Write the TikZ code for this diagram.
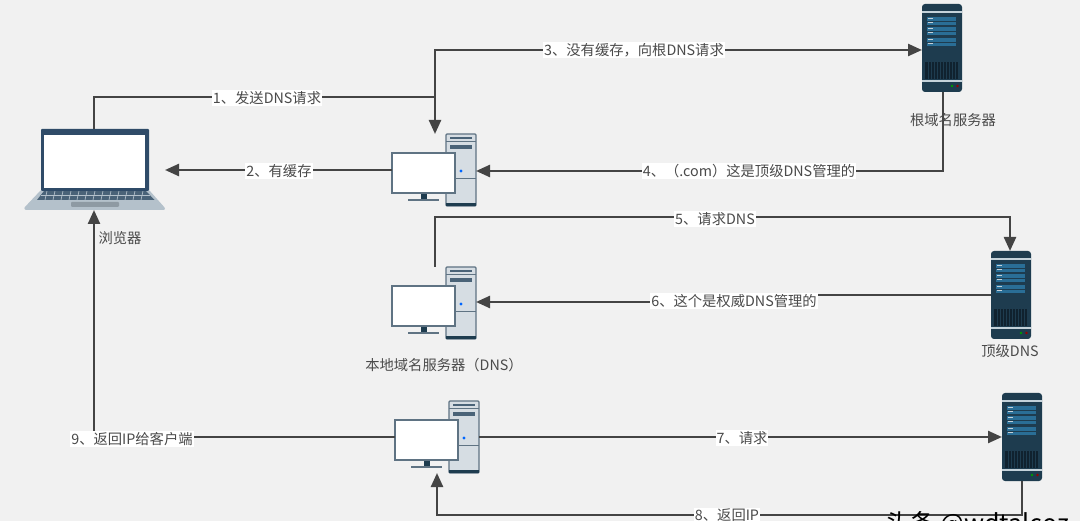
\documentclass[tikz,border=0pt]{standalone}
\usepackage{fontspec}
\setmainfont{Noto Sans CJK SC}
\usetikzlibrary{arrows.meta}
\definecolor{bgc}{HTML}{F1F1F1}
\definecolor{linec}{HTML}{444444}
\definecolor{txtc}{HTML}{4A4A4A}
\definecolor{navy}{HTML}{2F4B68}
\definecolor{lapb}{HTML}{B4C1CB}
\definecolor{lapk}{HTML}{4A6378}
\definecolor{lapp}{HTML}{8E9AA3}
\definecolor{towerc}{HTML}{D6DDE3}
\definecolor{towere}{HTML}{5F7383}
\definecolor{srv}{HTML}{1E3C4F}
\definecolor{srvd}{HTML}{10222F}
\definecolor{srvblue}{HTML}{2A6E96}
\definecolor{srvl}{HTML}{C4D2DA}
\tikzset{
  x=1pt,y=-1pt,
  conn/.style={draw=linec,line width=2.4pt},
  arr/.style={conn,-{Triangle[length=14pt,width=12pt]}},
  lab/.style={fill=white,text=txtc,font=\fontsize{14.3}{16}\selectfont,inner xsep=1pt,inner ysep=1pt},
  captiontext/.style={text=txtc,font=\fontsize{14.3}{16}\selectfont,inner sep=0pt},
  markstyle/.style={text=black,font=\fontsize{25}{27}\selectfont,inner sep=0pt,anchor=west},
}
\newcommand{\pcicon}[3]{% name, x, y of monitor's top left
  \begin{scope}[shift={(#2,#3)}]
    \node[inner sep=0pt,minimum width=84pt,minimum height=73pt,anchor=south west] (#1) at (0,53) {};
    \fill[towerc,draw=towere,line width=1.4pt,rounded corners=1pt] (54,-19) rectangle (84,53);
    \fill[srv] (54,50) rectangle (84,53);
    \draw[towere,line width=1pt] (54,-11) -- (84,-11) (54,26) -- (84,26);
    \fill[lapk] (58,-15.5) rectangle (80,-13.5);
    \fill[lapk] (58,-8) rectangle (80,-4);
    \fill[blue!60!cyan] (69,18) circle (1.6);
    \fill[srv] (29,40) rectangle (35,46);
    \fill[towere] (16,46) rectangle (47,48);
    \fill[white,draw=towere,line width=1.4pt] (0,0) rectangle (63,40);
  \end{scope}}
\newcommand{\srvicon}[3]{% name, x, y of top left
  \begin{scope}[shift={(#2,#3)}]
    \node[inner sep=0pt,minimum width=40pt,minimum height=88pt,anchor=south west] (#1) at (0,88) {};
    \fill[srv,rounded corners=3pt] (0,0) rectangle (40,88);
    \fill[srvl] (0,7.5) rectangle (40,9);
    \fill[srvl] (0,76.5) rectangle (40,78);
    \foreach \yy in {13,23,34}{
      \fill[srvblue] (5,\yy) rectangle (34,\yy+8);
      \fill[srvl] (6,\yy+1) rectangle (11,\yy+2.5);
      \fill[srvl] (6,\yy+5) rectangle (11,\yy+6.5);
      \draw[srv,line width=.5pt] (5,\yy+4) -- (34,\yy+4);
    }
    \fill[srvd] (3,58) rectangle (37,75.5);
    \foreach \xx in {6,9,...,36}{\draw[srv,line width=.4pt] (\xx,58) -- (\xx,75.5);}
    \fill[green!60!black] (30,82) circle (1.4);
    \fill[red!60!black] (35.5,82) circle (1.4);
  \end{scope}}
\begin{document}
\begin{tikzpicture}
\useasboundingbox (0,0) rectangle (1080,521);
\clip (0,0) rectangle (1080,521);
\fill[bgc] (0,0) rectangle (1080,521);
% icons
\node[inner sep=0pt,minimum width=141pt,minimum height=81pt,anchor=south west] (laptop) at (24,210) {};
\fill[lapb,rounded corners=1pt] (41,190) -- (149,190) -- (165,208) -- (165,210) -- (25,210) -- (24,208) -- cycle;
\fill[lapk] (44,191) -- (146,191) -- (154.5,200) -- (37,200) -- cycle;
\foreach \xx in {47,55,...,143}{\draw[lapb,line width=.7pt] (\xx,191) -- (\xx-2,200);}
\draw[lapb,line width=.7pt] (41,195.5) -- (150,195.5);
\fill[lapp,rounded corners=1pt] (71,202) rectangle (119,207);
\fill[navy,rounded corners=1pt] (41,129) rectangle (149,191);
\fill[white] (44,135) rectangle (145,188);
\pcicon{pca}{392}{153}
\pcicon{pcb}{392}{286}
\pcicon{pcc}{395}{420}
\srvicon{srva}{922}{4}
\srvicon{srvb}{991}{251}
\srvicon{srvc}{1002}{393}
% junctions
\coordinate (j13) at (435,97);
\coordinate (pcatop) at (435,134);
\coordinate (lapt) at (94,129);
\coordinate (lapbot) at (94,210);
\coordinate (pcbtop) at (435,267);
\coordinate (pccbot) at (437,473);
\coordinate (srvaout) at (943,92);
\coordinate (srvbin) at (1010,251);
\coordinate (srvcout) at (1022,481);
\coordinate (laptopr) at (165,170);
\coordinate (pcaleft) at (392,170);
\coordinate (pccleft) at (395,437);
% connectors
\draw[arr] (lapt) -- (94,97) -- (j13) -- (pcatop);
\draw[arr] (j13) -- (435,50) -- (922,50);
\draw[arr] (pcaleft) -- (laptopr);
\draw[arr] (srvaout) -- (943,171) -- (476,171);
\draw[arr] (pcbtop) -- (435,217) -- (1010,217) -- (srvbin);
\draw[arr] (991,295) -- (735,295) -- (735,302) -- (476,302);
\draw[arr] (479,437) -- (1002,437);
\draw[arr] (srvcout) -- (1022,515) -- (437,515) -- (pccbot);
\draw[arr] (pccleft) -- (94,437) -- (lapbot);
% connector labels
\node[lab] (l1) at (267,98) {1、发送DNS请求};
\node[lab] (l2) at (279,171) {2、有缓存};
\node[lab] (l3) at (634,50) {3、没有缓存，向根DNS请求};
\node[lab] (l4) at (749,171) {4、（.com）这是顶级DNS管理的};
\node[lab] (l5) at (715,219) {5、请求DNS};
\node[lab] (l6) at (734,301) {6、这个是权威DNS管理的};
\node[lab] (l7) at (742,438) {7、请求};
\node[lab] (l8) at (727,515) {8、返回IP};
\node[lab] (l9) at (132,439) {9、返回IP给客户端};
% captions
\node[captiontext] (c1) at (120,238) {浏览器};
\node[captiontext] (c2) at (953,120) {根域名服务器};
\node[captiontext] (c3) at (444,365) {本地域名服务器（DNS）};
\node[captiontext] (c4) at (1010,351) {顶级DNS};
\node[markstyle] (wm) at (885,524) {头条 @wdtalcoz};
\end{tikzpicture}
\end{document}
